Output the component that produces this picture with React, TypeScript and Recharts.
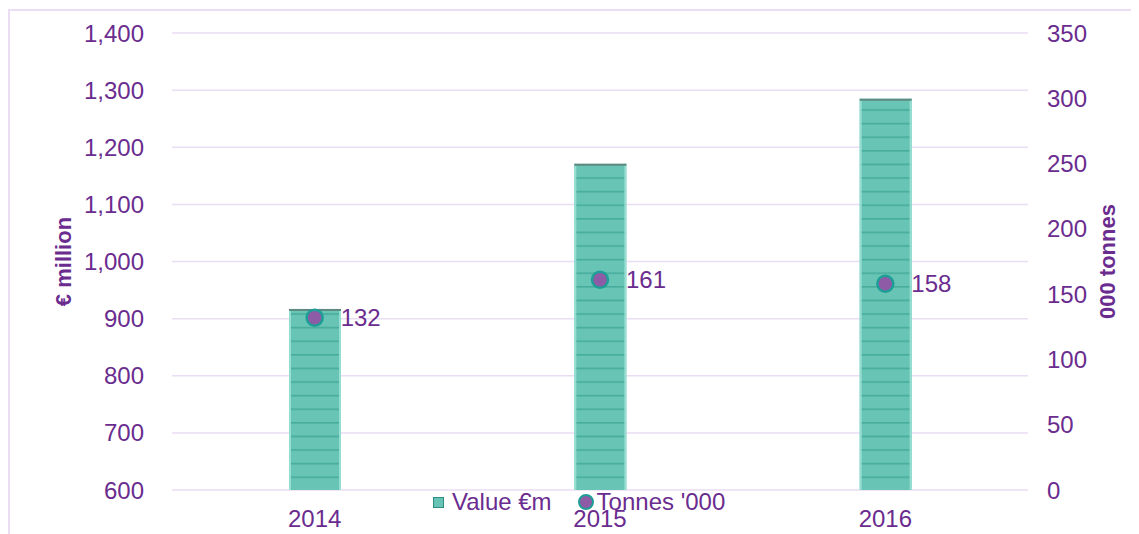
import React from 'react';
import { ComposedChart, Bar, Line, XAxis, YAxis, CartesianGrid, Legend, LabelList, Label } from 'recharts';

const years = ['2014', '2015', '2016'];
const valueEm = [917, 1171, 1285];
const tonnes = [132, 161, 158];
const leftTicks = [600, 700, 800, 900, 1000, 1100, 1200, 1300, 1400];
const rightTicks = [0, 50, 100, 150, 200, 250, 300, 350];

const data = years.map((y, i) => ({ year: y, value: valueEm[i], tonnes: tonnes[i] }));

const PURPLE = '#6A2C8E';
const GRID = '#EADDF4';
const FONT = '"Liberation Sans", Arial, sans-serif';
const PLOT_BOTTOM = 482;
const FS = 24;

const BarShape = (props: any) => {
  const { x, y, width, height, index } = props;
  const id = `stripes-${index}`;
  return (
    <g>
      <defs>
        <pattern id={id} patternUnits="userSpaceOnUse" x={0} y={PLOT_BOTTOM} width={10} height={13.6}>
          <rect x={0} y={0} width={10} height={13.6} fill="#68C4B4" />
          <rect x={0} y={0} width={10} height={1.6} fill="#46AC9C" />
        </pattern>
      </defs>
      <rect x={x} y={y} width={width} height={height} fill={`url(#${id})`} />
      <line x1={x + 1} x2={x + 1} y1={y} y2={y + height} stroke="#96DED2" strokeWidth={2} />
      <line x1={x + width - 1} x2={x + width - 1} y1={y} y2={y + height} stroke="#96DED2" strokeWidth={2} />
      <line x1={x} x2={x + width} y1={y + 1} y2={y + 1} stroke="#5E8A82" strokeWidth={2} />
    </g>
  );
};

const LegendContent = () => (
  <div style={{ display: 'flex', alignItems: 'center', fontFamily: FONT, fontSize: FS, color: PURPLE, whiteSpace: 'nowrap' }}>
    <span style={{ display: 'inline-block', width: 9, height: 9, background: '#67C3B3', border: '1.5px solid #2E8C80', marginRight: 8 }} />
    <span>Value €m</span>
    <span style={{ display: 'inline-block', width: 12, height: 12, borderRadius: '50%', background: '#8E5BA6', border: '2.5px solid #1E9E96', marginLeft: 26, marginRight: 3 }} />
    <span>Tonnes '000</span>
  </div>
);

export default function App() {
  return (
    <div style={{ position: 'relative', width: 1131, height: 526 }}>
      <div style={{ position: 'absolute', left: 0, top: 1, width: 1131, height: 525, borderTop: `2px solid ${GRID}`, borderLeft: `2px solid ${GRID}`, boxSizing: 'border-box' }} />
      <div style={{ position: 'absolute', left: 0, top: 0 }}>
        <ComposedChart width={1131} height={526} data={data} margin={{ top: 25, right: 0, left: 0, bottom: 0 }} barCategoryGap={0}>
          <CartesianGrid yAxisId="left" vertical={false} stroke={GRID} strokeWidth={1.5} />
          <XAxis dataKey="year" height={44} axisLine={false} tickLine={false} tickSize={0} tickMargin={20}
            tick={{ fill: PURPLE, fontSize: FS, fontFamily: FONT }} />
          <YAxis yAxisId="left" orientation="left" width={164} domain={[600, 1400]} ticks={leftTicks}
            axisLine={false} tickLine={false} tickSize={0} tickMargin={28} interval={0}
            tickFormatter={(v: number) => v.toLocaleString('en-US')}
            tick={{ fill: PURPLE, fontSize: FS, fontFamily: FONT }}>
            <Label value="€ million" angle={-90} position="center" dx={-27}
              style={{ fill: PURPLE, fontSize: 22, fontWeight: 'bold', fontFamily: FONT }} />
          </YAxis>
          <YAxis yAxisId="right" orientation="right" width={111} domain={[0, 350]} ticks={rightTicks}
            axisLine={false} tickLine={false} tickSize={0} tickMargin={19} interval={0}
            tick={{ fill: PURPLE, fontSize: FS, fontFamily: FONT }}>
            <Label value="000 tonnes" angle={-90} position="center" dx={24}
              style={{ fill: PURPLE, fontSize: 22, fontWeight: 'bold', fontFamily: FONT }} />
          </YAxis>
          <Legend layout="horizontal" verticalAlign="middle" align="center" content={<LegendContent />}
            wrapperStyle={{ top: 480, left: 425, width: 330, height: 28 }} />
          <Bar yAxisId="left" dataKey="value" name="Value €m" barSize={52} shape={<BarShape />} isAnimationActive={false} />
          <Line yAxisId="right" dataKey="tonnes" name="Tonnes '000" stroke="none" isAnimationActive={false}
            dot={{ r: 8, fill: '#8E5BA6', stroke: '#1E9E96', strokeWidth: 2.5 }} activeDot={false}>
            <LabelList dataKey="tonnes" position="right" offset={26}
              style={{ fill: PURPLE, fontSize: FS, fontFamily: FONT }} />
          </Line>
        </ComposedChart>
      </div>
    </div>
  );
}
